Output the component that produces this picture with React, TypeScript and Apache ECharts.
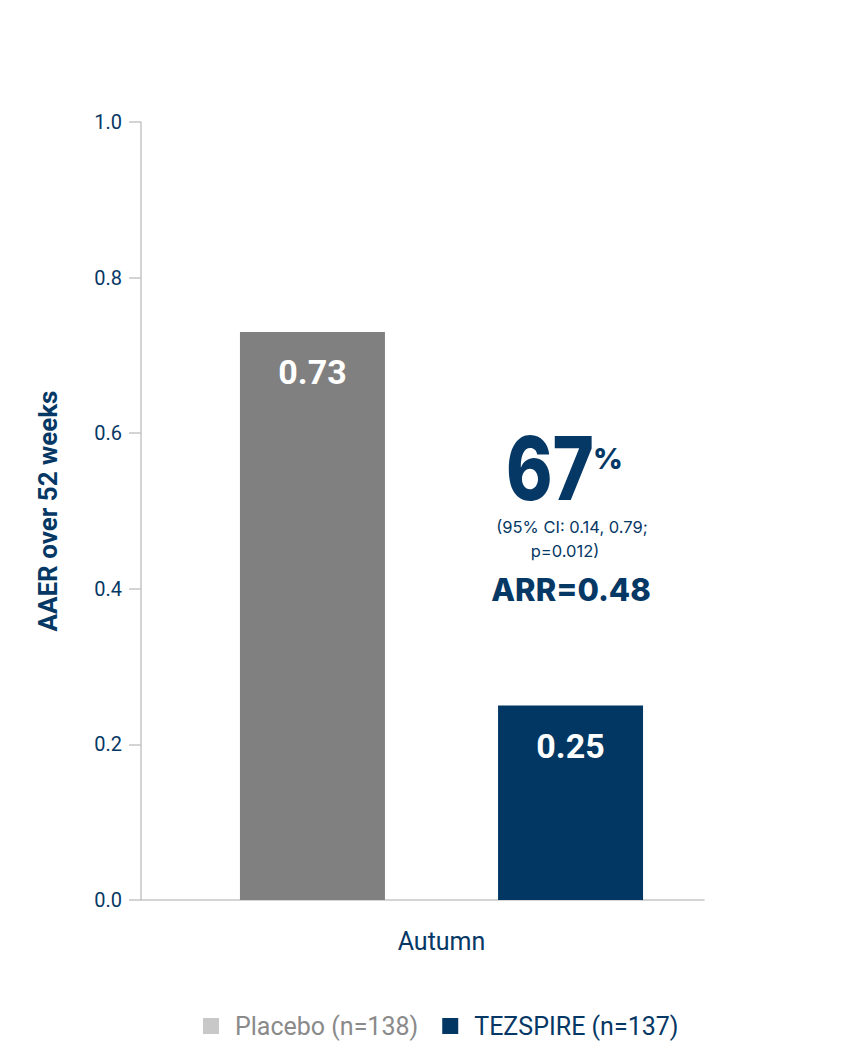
import React, { useEffect, useRef } from "react";
import * as echarts from "echarts";

const categories = ["Autumn"];
const placeboValues = [0.73];
const tezspireValues = [0.25];
const seriesNames = ["Placebo (n=138)", "TEZSPIRE (n=137)"];
const yTicks = { min: 0, max: 1, interval: 0.2 };
const annotation = {
  big: "67",
  unit: "%",
  ci1: "(95% CI: 0.14, 0.79;",
  ci2: "p=0.012)",
  arr: "ARR=0.48",
};

const NAVY = "#063865";
const BAR_NAVY = "#023763";
const GRAY_BAR = "#808080";
const AXIS_GRAY = "#c6c6c6";

export default function App() {
  const ref = useRef<HTMLDivElement>(null);
  useEffect(() => {
    document.body.style.margin = "0";
    const chart = echarts.init(ref.current!, null, { renderer: "svg" });
    const barLabel = {
      show: true,
      position: "insideTop",
      distance: 23,
      color: "#ffffff",
      fontFamily: "Roboto",
      fontWeight: "bold",
      fontSize: 34,
      formatter: (p: any) => p.value.toFixed(2),
    };
    chart.setOption({
      animation: false,
      backgroundColor: "#ffffff",
      grid: [
        { left: 141, right: 123, top: 122, bottom: 155 },
        { left: 141, right: 161, top: 122, bottom: 155 },
      ],
      legend: {
        left: 198,
        top: 1007,
        itemWidth: 16,
        itemHeight: 16,
        itemGap: 24,
        icon: "rect",
        textStyle: { fontFamily: "Roboto", fontSize: 25, lineHeight: 28, padding: [0, 0, 0, 11] },
        data: [
          { name: seriesNames[0], itemStyle: { color: "#c8c8c8" }, textStyle: { color: "#8a8a8a" } },
          { name: seriesNames[1], itemStyle: { color: BAR_NAVY }, textStyle: { color: NAVY } },
        ],
      },
      xAxis: [
        {
          type: "category",
          gridIndex: 0,
          data: categories,
          axisLine: { show: false },
          axisTick: { show: false },
          axisLabel: {
            color: NAVY,
            fontFamily: "Roboto",
            fontSize: 25,
            margin: 29,
          },
        },
        {
          type: "category",
          gridIndex: 1,
          data: [""],
          axisLine: { show: true, lineStyle: { color: AXIS_GRAY, width: 1.5 } },
          axisTick: { show: false },
          axisLabel: { show: false },
        },
      ],
      yAxis: [
        {
          type: "value",
          gridIndex: 0,
          min: yTicks.min,
          max: yTicks.max,
          interval: yTicks.interval,
          name: "AAER over 52 weeks",
          nameLocation: "middle",
          nameRotate: 90,
          nameGap: 80,
          nameTextStyle: { color: NAVY, fontFamily: "Roboto", fontWeight: "bold", fontSize: 26 },
          axisLine: { show: true, lineStyle: { color: AXIS_GRAY, width: 1.5 } },
          axisTick: { show: true, length: 12, lineStyle: { color: AXIS_GRAY, width: 1.5 } },
          splitLine: { show: false },
          axisLabel: {
            color: NAVY,
            fontFamily: "Roboto",
            fontSize: 20,
            margin: 19,
            formatter: (v: number) => v.toFixed(1),
          },
        },
        {
          type: "value",
          gridIndex: 1,
          min: yTicks.min,
          max: yTicks.max,
          show: false,
        },
      ],
      series: [
        {
          name: seriesNames[0],
          type: "bar",
          xAxisIndex: 0,
          yAxisIndex: 0,
          data: placeboValues,
          barWidth: 145,
          barGap: "78%",
          itemStyle: { color: GRAY_BAR },
          label: barLabel,
        },
        {
          name: seriesNames[1],
          type: "bar",
          xAxisIndex: 0,
          yAxisIndex: 0,
          data: tezspireValues,
          barWidth: 145,
          itemStyle: { color: BAR_NAVY },
          label: barLabel,
        },
      ],
      graphic: [
        {
          type: "text",
          x: 506,
          y: 468,
          scaleX: 0.8,
          style: {
            text: annotation.big,
            fill: NAVY,
            fontFamily: "Inter",
            fontWeight: 800,
            fontSize: 88,
            textAlign: "left",
            textVerticalAlign: "middle",
          },
        },
        {
          type: "text",
          x: 593,
          y: 458,
          style: {
            text: annotation.unit,
            fill: NAVY,
            fontFamily: "Inter",
            fontWeight: 800,
            fontSize: 29,
            textAlign: "left",
            textVerticalAlign: "middle",
          },
        },
        {
          type: "text",
          x: 572,
          y: 527,
          style: {
            text: annotation.ci1,
            fill: NAVY,
            fontFamily: "Inter",
            fontSize: 16.5,
            textAlign: "center",
            textVerticalAlign: "middle",
          },
        },
        {
          type: "text",
          x: 565,
          y: 551,
          style: {
            text: annotation.ci2,
            fill: NAVY,
            fontFamily: "Inter",
            fontSize: 16.5,
            textAlign: "center",
            textVerticalAlign: "middle",
          },
        },
        {
          type: "text",
          x: 571,
          y: 589,
          style: {
            text: annotation.arr,
            fill: NAVY,
            fontFamily: "Inter",
            fontWeight: 800,
            fontSize: 31,
            textAlign: "center",
            textVerticalAlign: "middle",
          },
        },
      ],
    });
    return () => chart.dispose();
  }, []);
  return <div ref={ref} style={{ width: 865, height: 1055 }} />;
}
